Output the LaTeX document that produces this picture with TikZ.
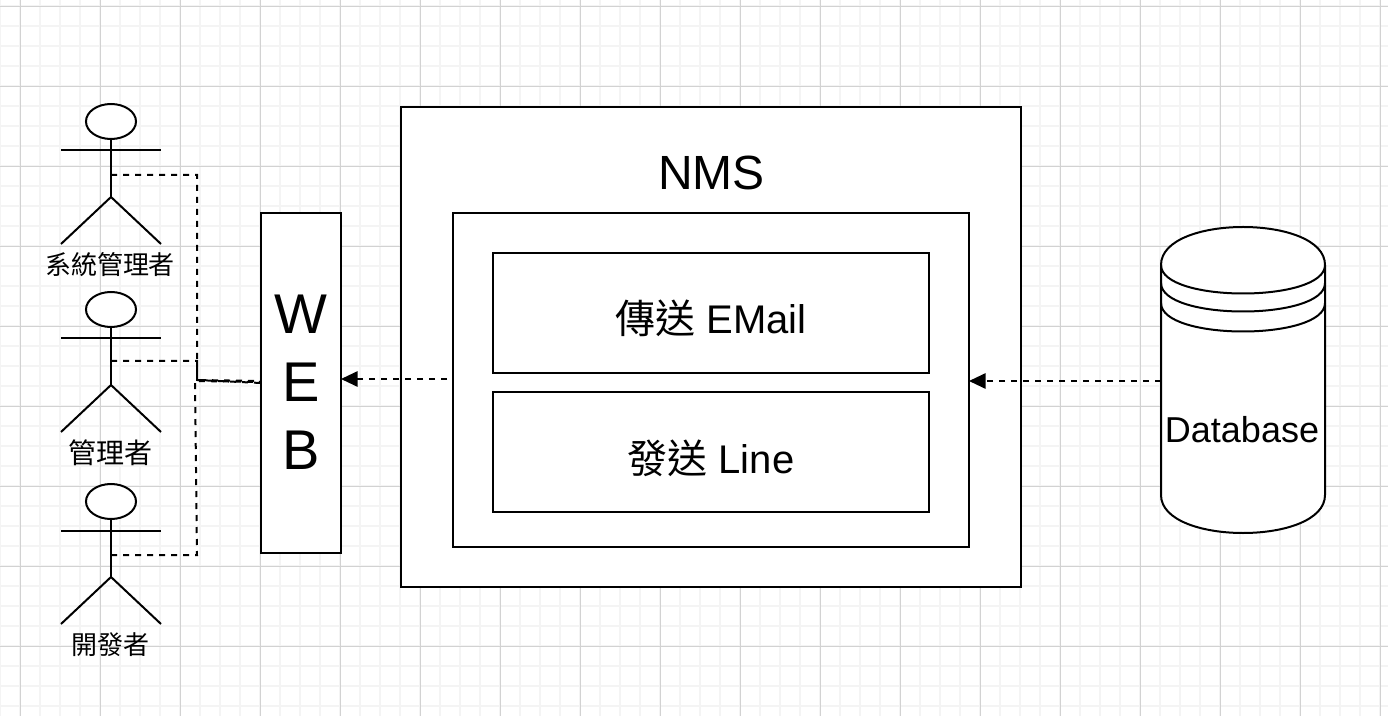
\documentclass[tikz,border=0pt]{standalone}
\usepackage{fontspec}
\setmainfont{Liberation Sans}
\newfontfamily\cjk{Noto Sans CJK TC}
\usetikzlibrary{arrows.meta,shapes.geometric}
\definecolor{gridmajor}{HTML}{D2D2D2}
\definecolor{gridminor}{HTML}{F4F4F4}
\tikzset{
  linew/.style={line width=1.5pt,draw=black},
  boxn/.style={linew,fill=white,rectangle,inner sep=0pt,outer sep=0pt,align=center},
  boxtext/.style={inner sep=0pt,font=\fontsize{30pt}{36pt}\selectfont},
  dashline/.style={line width=1.5pt,draw=black,dash pattern=on 4.5pt off 4.5pt},
  arrowline/.style={dashline,-{Triangle[length=12.5pt,width=11.5pt]}},
  actorlabel/.style={inner sep=0pt},
  head/.style={linew,fill=white,ellipse,inner sep=0pt,outer sep=0pt,minimum width=37.5pt,minimum height=26.25pt},
}
\begin{document}
\begin{tikzpicture}[x=0.75pt,y=-0.75pt]
\useasboundingbox (0,0) rectangle (1388,716);
\fill[white] (0,0) rectangle (1388,716);
% grid
\foreach \gx in {0,20,...,1380} \draw[gridminor,line width=1.5pt] (\gx,0) -- (\gx,716);
\foreach \gy in {6,26,...,706} \draw[gridminor,line width=1.5pt] (0,\gy) -- (1388,\gy);
\foreach \gx in {20,100,...,1380} \draw[gridmajor,line width=1pt] (\gx+0.4,0) -- (\gx+0.4,716);
\foreach \gy in {6,86,...,706} \draw[gridmajor,line width=1pt] (0,\gy+0.4) -- (1388,\gy+0.4);

% boxes
\node[boxn,minimum width=60pt,minimum height=255pt] (web) at (301,383) {};
\node[inner sep=0pt,align=center,font=\fontsize{42pt}{51pt}\selectfont] (webtext) at (301,382) {W\\E\\B};
\node[boxn,minimum width=465pt,minimum height=360pt] (nms) at (711,347) {};
\node[font=\fontsize{36pt}{43pt}\selectfont,inner sep=0pt] (nmslabel) at (711.5,173) {NMS};
\node[boxn,minimum width=387pt,minimum height=250.5pt] (inner) at (711,380) {};
\node[boxn,minimum width=327pt,minimum height=90pt] (mail) at (711,313) {};
\node[boxtext] (mailtext) at (711,318) {{\cjk 傳送} EMail};
\node[boxn,minimum width=327pt,minimum height=90pt] (line) at (711,452) {};
\node[boxtext] (linetext) at (711,458) {{\cjk 發送} Line};

% database
\filldraw[linew,fill=white] (1161,265) .. controls (1161,214.33) and (1325,214.33) .. (1325,265)
  -- (1325,495) .. controls (1325,545.67) and (1161,545.67) .. (1161,495) -- cycle;
\draw[linew] (1161,265) .. controls (1161,303) and (1325,303) .. (1325,265);
\draw[linew] (1161,283) .. controls (1161,321) and (1325,321) .. (1325,283);
\draw[linew] (1161,303) .. controls (1161,341) and (1325,341) .. (1325,303);
\node[font=\fontsize{27pt}{32pt}\selectfont,inner sep=0pt] (dblabel) at (1242,430) {Database};
\coordinate (dbleft) at (1161,381);
\coordinate (innerin) at (969,381);
\coordinate (nmsout) at (453,379);
\coordinate (webin) at (341,379);

% connectors
\draw[arrowline] (dbleft) -- (innerin);
\draw[arrowline,dash phase=4.5pt] (nmsout) -- (webin);

% actors
\foreach \name/\top/\lab/\laby/\fs in {a/104/系統管理者/265/19.5,b/292/管理者/453/21,c/484/開發者/645/19.5}{
  \coordinate (\name neck) at (111,\top+35);
  \coordinate (\name hip) at (111,\top+93);
  \coordinate (\name larm) at (61,\top+46.5);
  \coordinate (\name rarm) at (161,\top+46.5);
  \coordinate (\name lfoot) at (61,\top+140);
  \coordinate (\name rfoot) at (161,\top+140);
  \draw[linew] (\name larm) -- (\name rarm);
  \draw[linew] (\name neck) -- (\name hip);
  \draw[linew] (\name lfoot) -- (\name hip) -- (\name rfoot);
  \node[head] (\name head) at (111,\top+17.5) {};
  \node[actorlabel,font=\cjk\fontsize{\fs pt}{23pt}\selectfont] (\name label) at (110,\laby) {\lab};
}
\coordinate (aport) at (111,175);
\coordinate (bport) at (111,361);
\coordinate (cport) at (111,555);
\coordinate (ac) at (197,175);
\coordinate (ad) at (197,380);
\coordinate (bc) at (197,361);
\coordinate (cc) at (197,555);
\coordinate (cd) at (195,381);
\coordinate (wa) at (261,383);
\coordinate (wb) at (261,381);
\coordinate (wc) at (261,382);
\draw[dashline] (aport) -- (ac) -- (ad) -- (wa);
\draw[dashline] (bport) -- (bc) -- (ad) -- (wb);
\draw[dashline] (cport) -- (cc) -- (cd) -- (wc);
\end{tikzpicture}
\end{document}
